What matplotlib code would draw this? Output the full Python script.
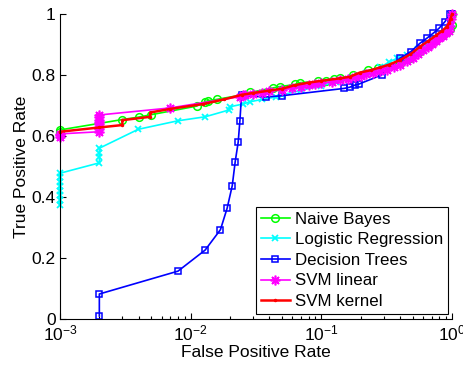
import matplotlib
matplotlib.use("Agg")
import matplotlib.pyplot as plt

plt.rcParams['font.family'] = ['Liberation Sans', 'DejaVu Sans']

# ROC points (FPR, TPR)
nb_fpr = [0.001, 0.001, 0.003, 0.004, 0.005, 0.0111, 0.0129, 0.0136, 0.0158, 0.025,
          0.0286, 0.0429, 0.0482, 0.063, 0.0686, 0.0947, 0.108, 0.125, 0.14, 0.175,
          0.229, 0.273, 0.33, 0.4, 0.48, 0.57, 0.66, 0.76, 0.85, 0.92, 0.97, 1.0, 1.0]
nb_tpr = [0.612, 0.62, 0.654, 0.662, 0.67, 0.698, 0.712, 0.716, 0.72, 0.735,
          0.743, 0.758, 0.762, 0.769, 0.775, 0.779, 0.78, 0.786, 0.789, 0.8,
          0.815, 0.822, 0.83, 0.84, 0.856, 0.878, 0.898, 0.915, 0.93, 0.94, 0.95, 0.965, 1.0]

lr_fpr = [0.001, 0.001, 0.001, 0.001, 0.001, 0.001, 0.001, 0.001, 0.002, 0.002, 0.002,
          0.002, 0.00397, 0.008, 0.0129, 0.0195, 0.02, 0.0253, 0.0283, 0.035, 0.045,
          0.05, 0.07, 0.1, 0.13, 0.17, 0.22, 0.28, 0.33, 0.38, 0.45, 0.55, 0.65, 0.75,
          0.85, 0.93, 0.98, 1.0]
lr_tpr = [0.375, 0.39, 0.405, 0.42, 0.435, 0.45, 0.465, 0.478, 0.512, 0.53, 0.545,
          0.56, 0.622, 0.65, 0.663, 0.685, 0.696, 0.705, 0.712, 0.72, 0.728,
          0.735, 0.75, 0.765, 0.778, 0.79, 0.805, 0.825, 0.842, 0.855, 0.865, 0.885,
          0.902, 0.92, 0.935, 0.95, 0.97, 1.0]

dt_fpr = [0.002, 0.002, 0.008, 0.0129, 0.0169, 0.019, 0.0208, 0.0219, 0.0231, 0.0238,
          0.0245, 0.0375, 0.0497, 0.149, 0.165, 0.181, 0.193, 0.289, 0.399, 0.485,
          0.568, 0.639, 0.718, 0.794, 0.883, 0.963, 1.0]
dt_tpr = [0.01, 0.082, 0.157, 0.226, 0.293, 0.363, 0.437, 0.515, 0.58, 0.65,
          0.733, 0.728, 0.732, 0.756, 0.76, 0.767, 0.77, 0.8, 0.855, 0.877,
          0.904, 0.92, 0.937, 0.953, 0.975, 1.0, 1.0]

svl_fpr = [0.001, 0.001, 0.001, 0.002, 0.002, 0.002, 0.002, 0.002, 0.002, 0.002, 0.002,
           0.00695, 0.0238, 0.025, 0.026, 0.03, 0.035, 0.04, 0.05, 0.06, 0.07, 0.08,
           0.09, 0.1, 0.12, 0.14, 0.16, 0.18, 0.2, 0.22, 0.25, 0.28, 0.32, 0.36, 0.4,
           0.45, 0.5, 0.55, 0.6, 0.65, 0.7, 0.75, 0.8, 0.85, 0.9, 0.94, 0.97, 0.99, 1.0]
svl_tpr = [0.598, 0.603, 0.607, 0.614, 0.622, 0.630, 0.638, 0.646, 0.654, 0.662, 0.669,
           0.692, 0.729, 0.733, 0.736, 0.738, 0.742, 0.746, 0.752, 0.757, 0.762, 0.766,
           0.77, 0.773, 0.778, 0.783, 0.788, 0.793, 0.798, 0.802, 0.807, 0.812, 0.818, 0.826, 0.834,
           0.845, 0.857, 0.87, 0.882, 0.893, 0.903, 0.912, 0.92, 0.928, 0.937, 0.945, 0.96, 0.985, 1.0]

svk_fpr = [0.001, 0.002, 0.003, 0.003, 0.0049, 0.0049, 0.007, 0.0125, 0.018, 0.0245,
           0.03, 0.04, 0.05, 0.063, 0.08, 0.1, 0.138, 0.165, 0.197, 0.24, 0.281, 0.33,
           0.399, 0.48, 0.568, 0.66, 0.76, 0.84, 0.91, 0.95, 0.975, 1.0]
svk_tpr = [0.614, 0.628, 0.636, 0.652, 0.663, 0.677, 0.689, 0.705, 0.72, 0.735,
           0.741, 0.749, 0.755, 0.767, 0.775, 0.781, 0.789, 0.794, 0.808, 0.816, 0.825, 0.834,
           0.849, 0.868, 0.893, 0.912, 0.931, 0.945, 0.958, 0.97, 0.985, 1.0]

fig = plt.figure(figsize=(4.63, 3.65), dpi=100)
ax = fig.add_axes([0.1296, 0.126, 0.8467, 0.8356])

kw = dict(linewidth=1.2, clip_on=False)
ax.plot(nb_fpr, nb_tpr, color='#00ff00', marker='o', markersize=5.5,
        markerfacecolor='none', markeredgewidth=1.1, label='Naive Bayes', **kw)
ax.plot(lr_fpr, lr_tpr, color='#00ffff', marker='x', markersize=5,
        markeredgewidth=1.3, label='Logistic Regression', **kw)
ax.plot(dt_fpr, dt_tpr, color='#0000ff', marker='s', markersize=5,
        markerfacecolor='none', markeredgewidth=1.1, label='Decision Trees', **kw)
ax.plot(svl_fpr, svl_tpr, color='#ff00ff', marker=(8, 2, 0), markersize=7,
        markeredgewidth=1.2, label='SVM linear', **kw)
ax.plot(svk_fpr, svk_tpr, color='#ff0000', marker='.', markersize=3,
        linewidth=1.8, clip_on=False, label='SVM kernel')

ax.set_xscale('log')
ax.set_xlim(1e-3, 1)
ax.set_ylim(0, 1)
ax.set_yticks([0, 0.2, 0.4, 0.6, 0.8, 1])
ax.set_yticklabels(['0', '0.2', '0.4', '0.6', '0.8', '1'])
ax.spines['top'].set_visible(False)
ax.spines['right'].set_visible(False)
ax.tick_params(which='both', direction='in', labelsize=12.5, width=0.8)
ax.tick_params(which='major', length=4, pad=3)
ax.tick_params(which='minor', length=2.5)
ax.set_xlabel('False Positive Rate', fontsize=12.5, labelpad=1.5)
ax.set_ylabel('True Positive Rate', fontsize=12.5, labelpad=2)

leg = ax.legend(loc='lower right', bbox_to_anchor=(0.99, 0.016), fontsize=12.2,
                frameon=True, fancybox=False, edgecolor='black', framealpha=1,
                handlelength=1.7, handletextpad=0.3, labelspacing=0.33,
                borderpad=0.3, borderaxespad=0)
leg.get_frame().set_linewidth(0.8)

plt.savefig('out.png', dpi=100)
plt.close()
